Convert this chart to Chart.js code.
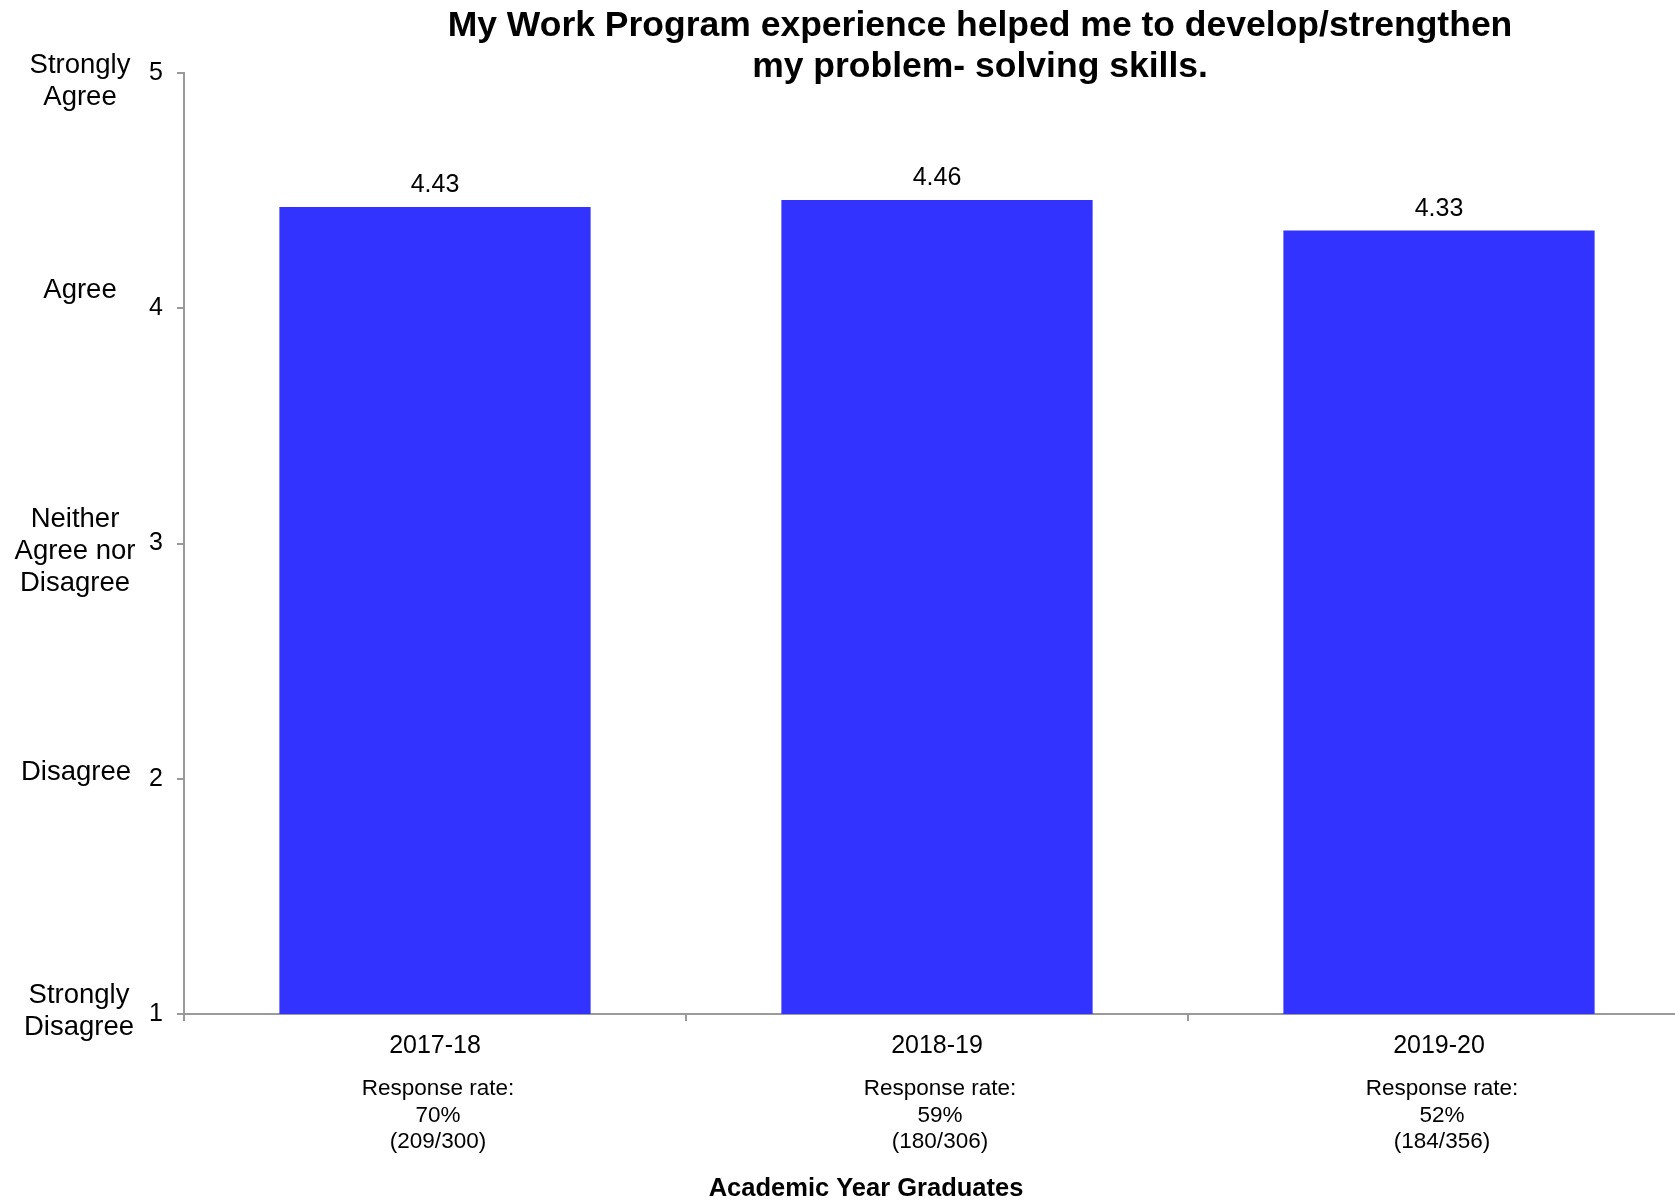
<!DOCTYPE html>
<html>
<head>
<meta charset="utf-8">
<script src="https://cdn.jsdelivr.net/npm/chart.js@4"></script>
<style>
  html, body { margin: 0; padding: 0; background: #fff; overflow: hidden; }
  #wrap { width: 1700px; height: 1201px; }
</style>
</head>
<body>
<div id="wrap"><canvas id="chart" width="1700" height="1201"></canvas></div>
<script>
// chart data
const years = ['2017-18', '2018-19', '2019-20'];
const scores = [4.43, 4.46, 4.33];
const responseRates = ['70%', '59%', '52%'];
const responseCounts = ['(209/300)', '(180/306)', '(184/356)'];
const scaleValues = [5, 4, 3, 2, 1];
const scaleWords = [
    ['Strongly', 'Agree'],
    ['Agree'],
    ['Neither', 'Agree nor', 'Disagree'],
    ['Disagree'],
    ['Strongly', 'Disagree']
];
const titleLines = ['My Work Program experience helped me to develop/strengthen', 'my problem- solving skills.'];
const xAxisTitle = 'Academic Year Graduates';

// little nudges for the word labels on the left
const wordShift = [8, -18, 8, -6, -3];
const wordShiftX = [3, 3, -2, -1, 2];

const FONT = "'Liberation Sans', Arial, sans-serif";
const AXIS_GREY = '#9a9a9a';

// draws title, value labels, y word labels, response rates and x title
const extrasPlugin = {
    id: 'extras',
    afterDraw(chart) {
        const ctx = chart.ctx;
        const area = chart.chartArea;
        const x = chart.scales.x;
        const y = chart.scales.y;
        ctx.save();
        ctx.fillStyle = '#000';
        ctx.textAlign = 'center';

        // title
        ctx.font = 'bold 35.5px ' + FONT;
        ctx.textBaseline = 'middle';
        titleLines.forEach((line, i) => {
            ctx.fillText(line, 980, 26 + i * 41);
        });

        // values on the bars
        ctx.font = '25px ' + FONT;
        ctx.textBaseline = 'alphabetic';
        const meta = chart.getDatasetMeta(0);
        meta.data.forEach((bar, i) => {
            ctx.fillText(scores[i].toFixed(2), bar.x, bar.y - 15);
        });

        // word labels beside the y ticks
        ctx.font = '27.5px ' + FONT;
        ctx.textBaseline = 'middle';
        scaleWords.forEach((lines, i) => {
            const cy = y.getPixelForValue(scaleValues[i]) + wordShift[i];
            const lh = 32;
            const top = cy - (lines.length - 1) * lh / 2;
            lines.forEach((t, k) => ctx.fillText(t, 77 + wordShiftX[i], top + k * lh));
        });

        // response rates under each year
        ctx.font = '22.5px ' + FONT;
        years.forEach((yr, i) => {
            const cx = x.getPixelForValue(i) + 3;
            const base = area.bottom + 75;
            ctx.fillText('Response rate:', cx, base);
            ctx.fillText(responseRates[i], cx, base + 26.5);
            ctx.fillText(responseCounts[i], cx, base + 53);
        });

        // x axis title
        ctx.font = 'bold 25.5px ' + FONT;
        ctx.fillText(xAxisTitle, 866, 1189);
        ctx.restore();
    }
};

const ctx = document.getElementById('chart').getContext('2d');
new Chart(ctx, {
    type: 'bar',
    data: {
        labels: years,
        datasets: [{
            data: scores,
            backgroundColor: '#3333ff',
            borderWidth: 0,
            categoryPercentage: 1.0,
            barPercentage: 0.62
        }]
    },
    options: {
        responsive: false,
        animation: false,
        layout: { padding: { top: 73, right: 10, left: 0, bottom: 0 } },
        plugins: {
            legend: { display: false },
            tooltip: { enabled: false },
            title: { display: false }
        },
        scales: {
            x: {
                grid: {
                    offset: true,
                    drawOnChartArea: false,
                    drawTicks: true,
                    tickLength: 7,
                    color: AXIS_GREY,
                    lineWidth: 2
                },
                border: { color: AXIS_GREY, width: 2 },
                ticks: {
                    color: '#000',
                    font: { family: FONT, size: 25 },
                    padding: 10
                },
                afterFit(scale) { scale.height = 187; }
            },
            y: {
                min: 1,
                max: 5,
                grid: {
                    drawOnChartArea: false,
                    drawTicks: true,
                    tickLength: 7,
                    color: AXIS_GREY,
                    lineWidth: 2
                },
                border: { color: AXIS_GREY, width: 2 },
                ticks: {
                    stepSize: 1,
                    color: '#000',
                    font: { family: FONT, size: 25 },
                    padding: 14
                },
                afterFit(scale) { scale.width = 184; }
            }
        }
    },
    plugins: [extrasPlugin]
});
</script>
</body>
</html>
